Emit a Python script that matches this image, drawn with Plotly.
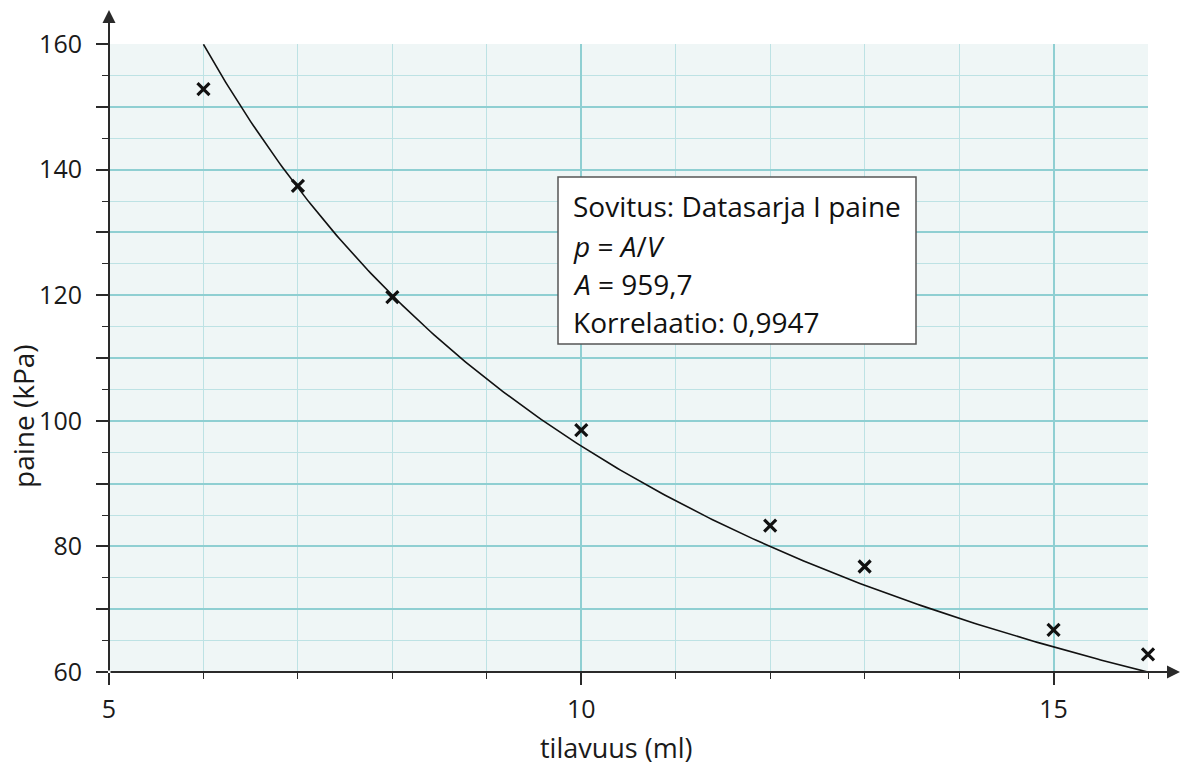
import numpy as np
import plotly.graph_objects as go

# Data
volume_ml = [6, 7, 8, 10, 12, 13, 15, 16]
pressure_kpa = [152.8, 137.4, 119.7, 98.5, 83.3, 76.8, 66.7, 62.8]
fit_A = 959.7
correlation = "0,9947"
y_tickvals = [60, 70, 80, 90, 100, 110, 120, 130, 140, 150, 160]
y_ticktext = ["60", "", "80", "", "100", "", "120", "", "140", "", "160"]
x_tickvals = [5, 10, 15]
x_ticktext = ["5", "10", "15"]

W, H = 1182, 765
L, R, T, B = 109, 34, 44, 93
X0, X1 = 5, 16
Y0, Y1 = 60, 160
PW, PH = W - L - R, H - T - B

def px2x(px):
    return X0 + (px - L) / PW * (X1 - X0)

def py2y(py):
    return Y1 - (py - T) / PH * (Y1 - Y0)

FONT = "Open Sans"
GRID_MAJ = "#8fcfd2"
GRID_MIN = "#bde2e4"
AX = "#2a2a2a"
TXT = "#1a1a1a"

vfit = np.linspace(6, 16, 300)
pfit = fit_A / vfit

fig = go.Figure()
fig.add_trace(go.Scatter(x=vfit, y=pfit, mode="lines",
                         line=dict(color="#111111", width=1.6),
                         hoverinfo="skip", showlegend=False, cliponaxis=False))
fig.add_trace(go.Scatter(x=volume_ml, y=pressure_kpa, mode="markers",
                         marker=dict(symbol="x-thin", size=12,
                                     line=dict(color="#111111", width=3.2)),
                         showlegend=False, cliponaxis=False))

fig.update_layout(
    width=W, height=H,
    margin=dict(l=L, r=R, t=T, b=B, autoexpand=False),
    paper_bgcolor="white", plot_bgcolor="#eff6f6",
    font=dict(family=FONT, size=25, color=TXT),
    xaxis=dict(range=[X0, X1], tickmode="array", tickvals=x_tickvals, ticktext=x_ticktext,
               ticks="outside", ticklen=12, tickwidth=2, tickcolor=AX,
               showgrid=True, gridcolor=GRID_MAJ, gridwidth=2,
               zeroline=False, showline=False, ticklabelstandoff=3,
               tickfont=dict(size=25, family=FONT, color=TXT),
               minor=dict(tickmode="linear", tick0=0, dtick=1, ticks="outside",
                          ticklen=6, tickwidth=1.2, tickcolor=AX,
                          showgrid=True, gridcolor=GRID_MIN, gridwidth=1)),
    yaxis=dict(range=[Y0, Y1], tickmode="array", tickvals=y_tickvals, ticktext=y_ticktext,
               ticks="outside", ticklen=12, tickwidth=2, tickcolor=AX,
               showgrid=True, gridcolor=GRID_MAJ, gridwidth=2,
               zeroline=False, showline=False, ticklabelstandoff=9,
               tickfont=dict(size=25, family=FONT, color=TXT),
               minor=dict(tickmode="linear", tick0=0, dtick=5, ticks="outside",
                          ticklen=6, tickwidth=1.2, tickcolor=AX,
                          showgrid=True, gridcolor=GRID_MIN, gridwidth=1)),
)

# axis lines with arrowheads
fig.add_annotation(xref="paper", yref="paper", x=0, y=1 + (T - 10) / PH,
                   ax=0, ay=H - B - 10, axref="pixel", ayref="pixel",
                   showarrow=True, arrowhead=2, arrowsize=1.3, arrowwidth=2,
                   arrowcolor=AX, text="")
fig.add_annotation(xref="paper", yref="paper", x=1 + (R - 2) / PW, y=0,
                   ax=-(W - 2 - L), ay=0, axref="pixel", ayref="pixel",
                   showarrow=True, arrowhead=2, arrowsize=1.3, arrowwidth=2,
                   arrowcolor=AX, text="")

# axis titles
fig.add_annotation(xref="paper", yref="paper", x=(616 - L) / PW, y=-(747 - (H - B)) / PH,
                   text="tilavuus (ml)", showarrow=False, xanchor="center", yanchor="middle",
                   font=dict(size=27, family=FONT, color=TXT))
fig.add_annotation(xref="paper", yref="paper", x=-(L - 23) / PW, y=(H - B - 416) / PH,
                   text="paine (kPa)", showarrow=False, textangle=-90,
                   xanchor="center", yanchor="middle",
                   font=dict(size=28, family=FONT, color=TXT))

# fit info box
fig.add_shape(type="rect", xref="x", yref="y",
              x0=px2x(558), x1=px2x(916), y0=py2y(344), y1=py2y(177),
              fillcolor="white", line=dict(color="#555555", width=1.5), layer="above")
box_lines = ["Sovitus: Datasarja I paine",
             "<i>p</i> = <i>A</i>/<i>V</i>",
             "<i>A</i> = " + f"{fit_A}".replace(".", ","),
             "Korrelaatio: " + correlation]
for i, (t, py) in enumerate(zip(box_lines, [206, 246, 284, 322])):
    fig.add_annotation(xref="x", yref="y", x=px2x(571), y=py2y(py), text=t,
                       showarrow=False, xanchor="left", yanchor="middle",
                       font=dict(size=28, family=FONT, color="#111111"))

fig.write_html("out.html")
